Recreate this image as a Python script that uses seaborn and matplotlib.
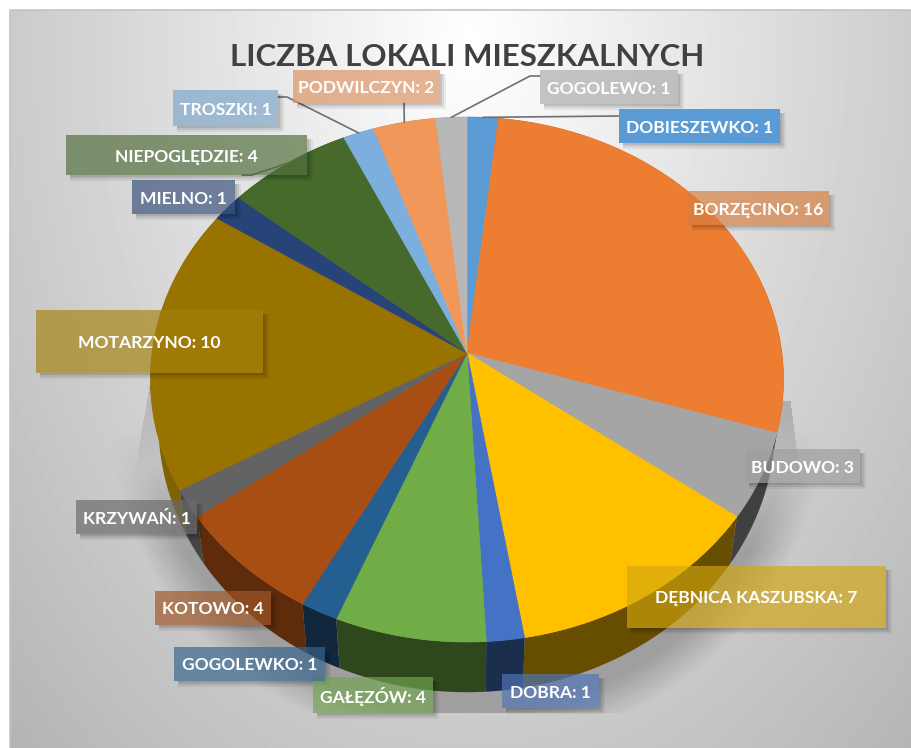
#!/usr/bin/env python3
# -*- coding: utf-8 -*-
import numpy as np
import seaborn as sns
import matplotlib
matplotlib.use('Agg')
import matplotlib.pyplot as plt
from matplotlib.patches import Rectangle

title = 'LICZBA LOKALI MIESZKALNYCH'

places = ['DOBIESZEWKO', 'BORZĘCINO', 'BUDOWO', 'DĘBNICA KASZUBSKA', 'DOBRA',
          'GAŁĘZÓW', 'GOGOLEWKO', 'KOTOWO', 'KRZYWAŃ', 'MOTARZYNO',
          'MIELNO', 'NIEPOGLĘDZIE', 'TROSZKI', 'PODWILCZYN', 'GOGOLEWO']
counts = [1, 16, 3, 7, 1, 4, 1, 4, 1, 10, 1, 4, 1, 2, 1]
top_colors = ['#5B9BD5', '#ED7D31', '#A5A5A5', '#FFC000', '#4472C4',
              '#70AD47', '#255E91', '#A84E12', '#636363', '#997300',
              '#264478', '#466A2B', '#7CAFDD', '#F1975A', '#B7B7B7']
wall_shade = [0.4, 0.4, 0.39, 0.4, 0.4, 0.41, 0.42, 0.56, 0.7, 0.85,
              0.4, 0.4, 0.4, 0.4, 0.4]
# the two gold labels are filled directly, the others get a bit of gray mixed in
gold_labels = {3: '#D3A50E', 9: '#A37E0A'}

# label boxes: x0, y0, x1, y1 in picture pixels
boxes = [(619, 109, 780, 143), (688, 191, 829, 225), (745, 449, 860, 483),
         (627, 566, 886, 628), (502, 674, 599, 708), (313, 677, 433, 713),
         (174, 647, 325, 681), (155, 591, 271, 625), (76, 500, 197, 534),
         (36, 310, 263, 373), (132, 180, 235, 214), (66, 135, 307, 175),
         (173, 90, 278, 126), (293, 70, 440, 103), (540, 70, 678, 104)]
# leader lines: wedge index -> points leading from the label to the rim
leaders = {0: [(619, 116)], 11: [(242, 175), (252, 175)],
           12: [(278, 97), (287, 97)], 13: [(404, 103)],
           14: [(540, 76), (530, 76)]}

# perspective of the pie disc
cx, cy = 467, 353
a, b, p = 314.9, 259.8, 0.101


def rim(t, lower=False):
    X, Y = np.sin(t), np.cos(t)
    w = 1 + p * Y
    u, v = a * X / w, -b * Y / w
    if lower:
        return cx + 0.975 * u, cy + 1.025 * v + 43
    return cx + u, cy + v


sns.set_theme(style='white')
plt.rcParams['font.family'] = ['Lato', 'DejaVu Sans']
palette = sns.color_palette(top_colors)

fig = plt.figure(figsize=(9.11, 7.48), dpi=100)
ax = fig.add_axes([0, 0, 1, 1])
ax.axis('off')

# background gradient
xx, yy = np.meshgrid(np.arange(10, 911), np.arange(10, 748))
r = np.hypot((xx - 470) / 470, (yy - 40) / 700)
ax.imshow(1 - 0.21 * r, cmap='gray', vmin=0, vmax=1, extent=(10, 911, 748, 10),
          aspect='auto', zorder=0)
ax.plot([10, 10, 911], [748, 10, 10], color='#c4c4c4', lw=1.2, zorder=1)

# soft shadow under the pie, only around the lower half
rn = np.hypot((xx - 467) / 322, (yy - 402) / 310)
alpha = 0.32 * np.clip(1 - (rn - 1) * 310 / 38, 0, 1) * np.clip((yy - 430) / 120, 0, 1)
alpha[yy > 712] = 0
# faint rays on both sides, fading downwards
ray_r = (yy > 400) & (yy < 533) & (xx < 790 + (yy - 400) * 17 / 133) & (xx > 700)
ray_l = (yy > 380) & (yy < 530) & (xx > 150 - (yy - 380) * 20 / 117) & (xx < 260)
alpha = np.maximum(alpha, ray_r * 0.25 * (1 - (yy - 400) / 133))
alpha = np.maximum(alpha, ray_l * 0.2 * (1 - (yy - 380) / 150))
shadow = np.zeros(alpha.shape + (4,))
shadow[..., :3] = 0.25
shadow[..., 3] = alpha
ax.imshow(shadow, extent=(10, 911, 748, 10), aspect='auto', zorder=1)

# pie built from the counts, clockwise from the top
edges = 2 * np.pi * np.cumsum([0] + counts) / sum(counts)
mids = (edges[:-1] + edges[1:]) / 2
order = np.argsort(np.cos(mids))[::-1]

for i in order:
    t = np.linspace(edges[i], edges[i + 1], 80)
    x1, y1 = rim(t)
    x2, y2 = rim(t, lower=True)
    shade = np.array(palette[i]) * wall_shade[i]
    ax.fill(np.r_[x1, x2[::-1]], np.r_[y1, y2[::-1]], color=shade, lw=0, zorder=2)

for i in range(len(counts)):
    t = np.linspace(edges[i], edges[i + 1], 80)
    x1, y1 = rim(t)
    ax.fill(np.r_[cx, x1], np.r_[cy, y1], color=palette[i], lw=0.5, zorder=3)

# leader lines end at the middle of their wedge
for i, pts in leaders.items():
    mx, my = rim(mids[i])
    xs = [q[0] for q in pts] + [float(mx)]
    ys = [q[1] for q in pts] + [float(my)]
    ax.plot(xs, ys, color='#6f6f6f', lw=1.2, zorder=4)

gray = np.array([0.5, 0.5, 0.5])
for i, (x0, y0, x1, y1) in enumerate(boxes):
    # drop shadow as strips along the right and bottom, so it does not show through
    for off, al in [(6, 0.06), (4, 0.08), (2, 0.1)]:
        ax.add_patch(Rectangle((x1, y0 + 4), off, y1 - y0 - 4 + off, fc='black',
                               alpha=al, lw=0, zorder=5))
        ax.add_patch(Rectangle((x0 + 4, y1), x1 - x0 - 4, off, fc='black',
                               alpha=al, lw=0, zorder=5))
    if i == 0:
        fc, al = palette[i], 1.0
    elif i in gold_labels:
        fc, al = gold_labels[i], 0.65
    else:
        fc, al = 0.8 * np.array(palette[i]) + 0.2 * gray, 0.68
    ax.add_patch(Rectangle((x0, y0), x1 - x0, y1 - y0, fc=fc, alpha=al, lw=0, zorder=6))
    ax.text((x0 + x1) / 2, (y0 + y1) / 2, f'{places[i]}: {counts[i]}', color='white',
            fontsize=12.6, fontweight='bold', ha='center', va='center_baseline', zorder=7)

ax.text(467, 54, title, color='#404040', fontsize=22.5, fontweight='bold',
        ha='center', va='center_baseline', zorder=8)

ax.set_xlim(0, 911)
ax.set_ylim(748, 0)
fig.savefig('out.png', dpi=100)
